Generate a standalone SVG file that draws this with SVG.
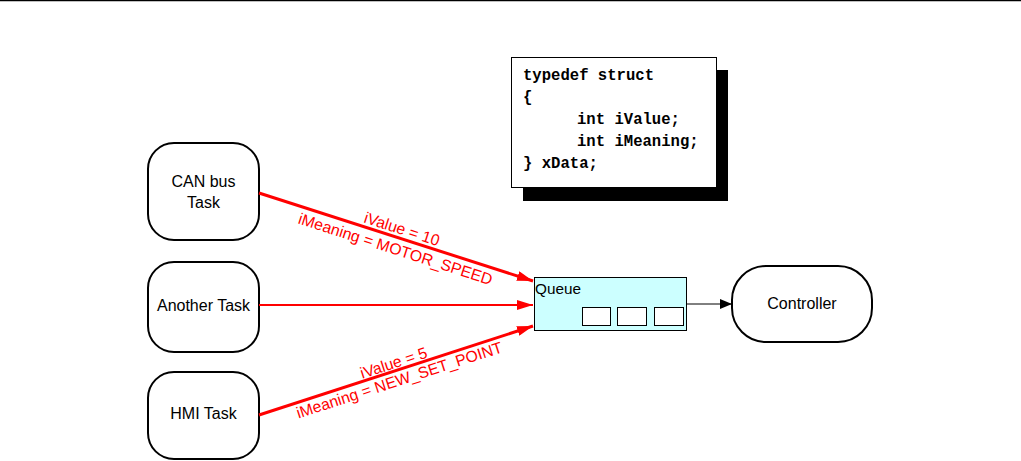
<svg xmlns="http://www.w3.org/2000/svg" width="1021" height="461" viewBox="0 0 1021 461">
<style>
.node{fill:#fff;stroke:#000;stroke-width:2}
.lbl{font-family:"Liberation Sans",Arial,sans-serif;font-size:16px;fill:#000;text-anchor:middle}
.red{font-family:"Liberation Sans",Arial,sans-serif;font-size:15.8px;fill:#f00;text-anchor:middle}
.code{font-family:"Liberation Mono","Courier New",monospace;font-size:15.6px;font-weight:bold;fill:#000}
.rl{stroke:#f00;fill:none}
</style>
<defs>
<marker id="ra" viewBox="0 0 16 10" refX="16" refY="5" markerWidth="16" markerHeight="10" markerUnits="userSpaceOnUse" orient="auto"><path d="M0,0 L16,5 L0,10 Z" fill="#f00"/></marker>
<marker id="ba" viewBox="0 0 12 10" refX="12" refY="5" markerWidth="12" markerHeight="10" markerUnits="userSpaceOnUse" orient="auto"><path d="M0,0 L12,5 L0,10 Z" fill="#000"/></marker>
</defs>
<rect width="1021" height="461" fill="#fff"/>
<line x1="0" y1="0.5" x2="1021" y2="0.5" stroke="#000" stroke-width="1.5"/>
<g id="code">
<rect x="523" y="70" width="205" height="131" fill="#000"/>
<rect x="511.5" y="57.5" width="205" height="130" fill="#fff" stroke="#000" stroke-width="1"/>
<text class="code" x="523" y="80">typedef struct</text>
<text class="code" x="523" y="102">{</text>
<text class="code" x="577" y="124">int iValue;</text>
<text class="code" x="577" y="146">int iMeaning;</text>
<text class="code" x="523" y="168">} xData;</text>
</g>
<g id="can">
<rect class="node" x="148" y="143" width="111" height="97" rx="26"/>
<text class="lbl" x="203.5" y="187">CAN bus</text>
<text class="lbl" x="203.5" y="208">Task</text>
</g>
<g id="another">
<rect class="node" x="148" y="262" width="111" height="90" rx="26"/>
<text class="lbl" x="203.5" y="311">Another Task</text>
</g>
<g id="hmi">
<rect class="node" x="148" y="372" width="111" height="87" rx="26"/>
<text class="lbl" x="203.5" y="419">HMI Task</text>
</g>
<g id="queue">
<rect x="534.5" y="277.5" width="152" height="53" fill="#ccffff" stroke="#000" stroke-width="1"/>
<text x="535" y="294" font-family="Liberation Sans,Arial,sans-serif" font-size="15.3" fill="#000">Queue</text>
<rect x="582.5" y="307.5" width="28" height="18" fill="#fff" stroke="#000" stroke-width="1"/>
<rect x="617.5" y="307.5" width="29" height="18" fill="#fff" stroke="#000" stroke-width="1"/>
<rect x="654.5" y="307.5" width="29" height="18" fill="#fff" stroke="#000" stroke-width="1"/>
</g>
<g id="controller">
<rect class="node" x="732" y="266" width="140" height="76" rx="34"/>
<text class="lbl" x="802" y="309">Controller</text>
</g>
<g id="connectors">
<line class="rl" x1="259" y1="193" x2="533" y2="281" stroke-width="3" marker-end="url(#ra)"/>
<line class="rl" x1="259" y1="305" x2="533" y2="305" stroke-width="2" marker-end="url(#ra)"/>
<line class="rl" x1="259" y1="415" x2="533" y2="326" stroke-width="3" marker-end="url(#ra)"/>
<line x1="687" y1="304" x2="732" y2="304" stroke="#000" stroke-width="1" marker-end="url(#ba)"/>
<g transform="translate(399,238) rotate(17.8)">
<text class="red" x="0" y="-4">iValue = 10</text>
<text class="red" x="0" y="17">iMeaning = MOTOR_SPEED</text>
</g>
<g transform="translate(396,370) rotate(-18)">
<text class="red" x="0" y="-2">iValue = 5</text>
<text class="red" x="0" y="16">iMeaning = NEW_SET_POINT</text>
</g>
</g>
</svg>
